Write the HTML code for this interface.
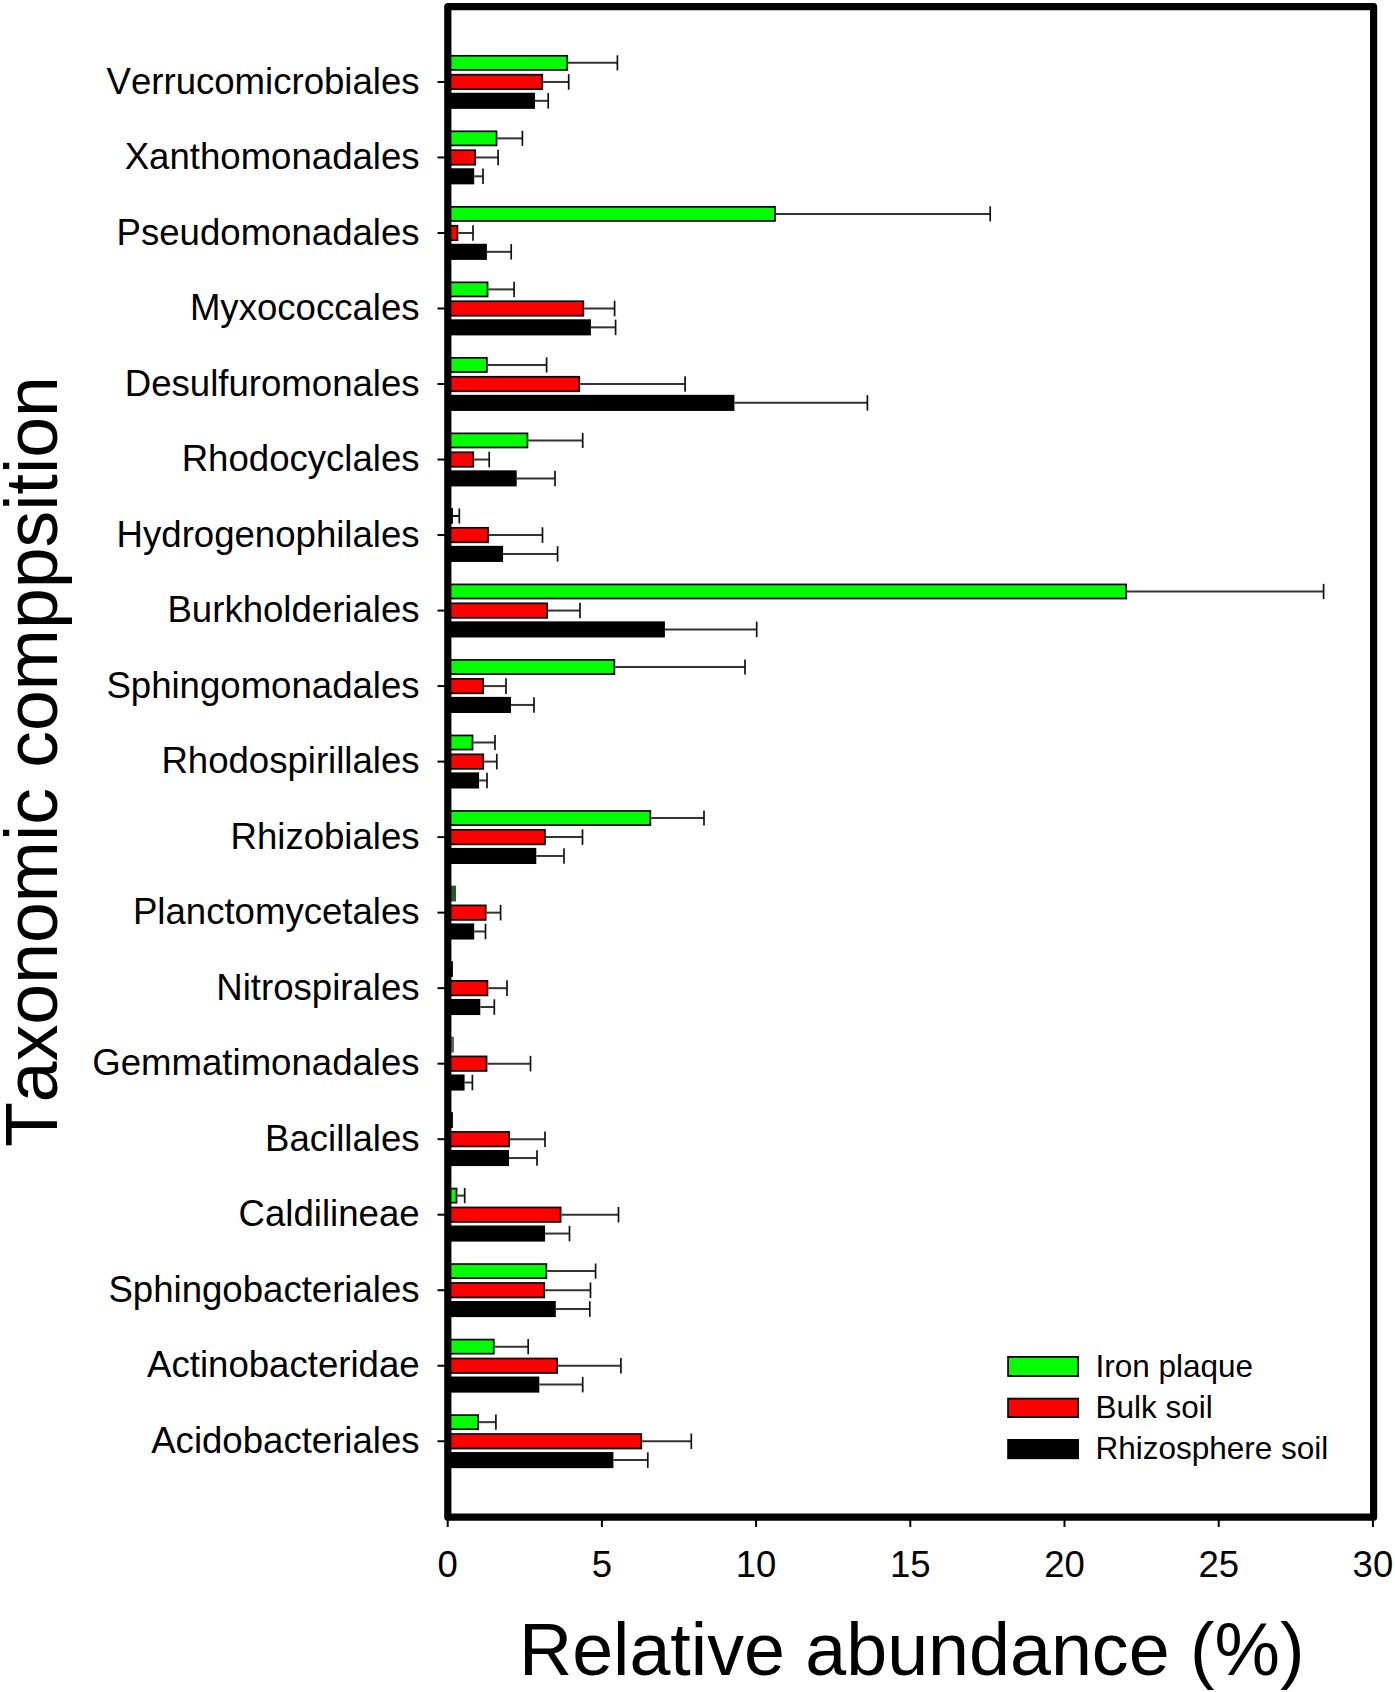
<!DOCTYPE html>
<html><head><meta charset="utf-8"><style>
html,body{margin:0;padding:0;background:#fff;}
svg{display:block;}
text{font-family:"Liberation Sans",sans-serif;fill:#000;font-kerning:none;}
.lab{font-size:36.6px;}
.tick{font-size:36.5px;}
.leg{font-size:31.5px;}
.title{font-size:73.6px;}
.title2{font-size:73.4px;}
</style></head><body>
<svg width="1395" height="1692" viewBox="0 0 1395 1692">
<rect width="1395" height="1692" fill="#fff"/>
<rect x="448.00" y="55.80" width="119.25" height="14.10" fill="#00ff00" stroke="#000" stroke-width="1.7"/>
<line x1="568.10" y1="62.85" x2="617.40" y2="62.85" stroke="#333" stroke-width="2"/>
<line x1="617.40" y1="55.25" x2="617.40" y2="70.45" stroke="#111" stroke-width="1.7"/>
<rect x="448.00" y="74.70" width="94.25" height="14.50" fill="#ff0000" stroke="#000" stroke-width="1.7"/>
<line x1="543.10" y1="81.95" x2="568.70" y2="81.95" stroke="#333" stroke-width="2"/>
<line x1="568.70" y1="74.15" x2="568.70" y2="89.75" stroke="#111" stroke-width="1.7"/>
<rect x="448.00" y="93.60" width="86.15" height="14.40" fill="#000000" stroke="#000" stroke-width="1.7"/>
<line x1="535.00" y1="100.80" x2="548.20" y2="100.80" stroke="#333" stroke-width="2"/>
<line x1="548.20" y1="93.05" x2="548.20" y2="108.55" stroke="#111" stroke-width="1.7"/>
<line x1="437.5" y1="81.95" x2="446" y2="81.95" stroke="#000" stroke-width="2"/>
<text x="419.6" y="93.55" text-anchor="end" class="lab">Verrucomicrobiales</text>
<rect x="448.00" y="131.32" width="48.55" height="14.10" fill="#00ff00" stroke="#000" stroke-width="1.7"/>
<line x1="497.40" y1="138.37" x2="522.40" y2="138.37" stroke="#333" stroke-width="2"/>
<line x1="522.40" y1="130.77" x2="522.40" y2="145.97" stroke="#111" stroke-width="1.7"/>
<rect x="448.00" y="150.22" width="27.15" height="14.50" fill="#ff0000" stroke="#000" stroke-width="1.7"/>
<line x1="476.00" y1="157.47" x2="498.10" y2="157.47" stroke="#333" stroke-width="2"/>
<line x1="498.10" y1="149.67" x2="498.10" y2="165.27" stroke="#111" stroke-width="1.7"/>
<rect x="448.00" y="169.12" width="25.35" height="14.40" fill="#000000" stroke="#000" stroke-width="1.7"/>
<line x1="474.20" y1="176.32" x2="483.00" y2="176.32" stroke="#333" stroke-width="2"/>
<line x1="483.00" y1="168.57" x2="483.00" y2="184.07" stroke="#111" stroke-width="1.7"/>
<line x1="437.5" y1="157.47" x2="446" y2="157.47" stroke="#000" stroke-width="2"/>
<text x="419.6" y="169.07" text-anchor="end" class="lab">Xanthomonadales</text>
<rect x="448.00" y="206.83" width="326.95" height="14.10" fill="#00ff00" stroke="#000" stroke-width="1.7"/>
<line x1="775.80" y1="213.88" x2="990.20" y2="213.88" stroke="#333" stroke-width="2"/>
<line x1="990.20" y1="206.28" x2="990.20" y2="221.48" stroke="#111" stroke-width="1.7"/>
<rect x="448.00" y="225.73" width="9.45" height="14.50" fill="#ff0000" stroke="#000" stroke-width="1.7"/>
<line x1="458.30" y1="232.98" x2="473.00" y2="232.98" stroke="#333" stroke-width="2"/>
<line x1="473.00" y1="225.18" x2="473.00" y2="240.78" stroke="#111" stroke-width="1.7"/>
<rect x="448.00" y="244.63" width="38.05" height="14.40" fill="#000000" stroke="#000" stroke-width="1.7"/>
<line x1="486.90" y1="251.83" x2="511.20" y2="251.83" stroke="#333" stroke-width="2"/>
<line x1="511.20" y1="244.08" x2="511.20" y2="259.58" stroke="#111" stroke-width="1.7"/>
<line x1="437.5" y1="232.98" x2="446" y2="232.98" stroke="#000" stroke-width="2"/>
<text x="419.6" y="244.58" text-anchor="end" class="lab">Pseudomonadales</text>
<rect x="448.00" y="282.35" width="39.55" height="14.10" fill="#00ff00" stroke="#000" stroke-width="1.7"/>
<line x1="488.40" y1="289.40" x2="514.10" y2="289.40" stroke="#333" stroke-width="2"/>
<line x1="514.10" y1="281.80" x2="514.10" y2="297.00" stroke="#111" stroke-width="1.7"/>
<rect x="448.00" y="301.25" width="135.35" height="14.50" fill="#ff0000" stroke="#000" stroke-width="1.7"/>
<line x1="584.20" y1="308.50" x2="614.60" y2="308.50" stroke="#333" stroke-width="2"/>
<line x1="614.60" y1="300.70" x2="614.60" y2="316.30" stroke="#111" stroke-width="1.7"/>
<rect x="448.00" y="320.15" width="142.05" height="14.40" fill="#000000" stroke="#000" stroke-width="1.7"/>
<line x1="590.90" y1="327.35" x2="615.60" y2="327.35" stroke="#333" stroke-width="2"/>
<line x1="615.60" y1="319.60" x2="615.60" y2="335.10" stroke="#111" stroke-width="1.7"/>
<line x1="437.5" y1="308.50" x2="446" y2="308.50" stroke="#000" stroke-width="2"/>
<text x="419.6" y="320.10" text-anchor="end" class="lab">Myxococcales</text>
<rect x="448.00" y="357.87" width="38.85" height="14.10" fill="#00ff00" stroke="#000" stroke-width="1.7"/>
<line x1="487.70" y1="364.92" x2="546.60" y2="364.92" stroke="#333" stroke-width="2"/>
<line x1="546.60" y1="357.32" x2="546.60" y2="372.52" stroke="#111" stroke-width="1.7"/>
<rect x="448.00" y="376.77" width="131.25" height="14.50" fill="#ff0000" stroke="#000" stroke-width="1.7"/>
<line x1="580.10" y1="384.02" x2="685.10" y2="384.02" stroke="#333" stroke-width="2"/>
<line x1="685.10" y1="376.22" x2="685.10" y2="391.82" stroke="#111" stroke-width="1.7"/>
<rect x="448.00" y="395.67" width="285.55" height="14.40" fill="#000000" stroke="#000" stroke-width="1.7"/>
<line x1="734.40" y1="402.87" x2="867.40" y2="402.87" stroke="#333" stroke-width="2"/>
<line x1="867.40" y1="395.12" x2="867.40" y2="410.62" stroke="#111" stroke-width="1.7"/>
<line x1="437.5" y1="384.02" x2="446" y2="384.02" stroke="#000" stroke-width="2"/>
<text x="419.6" y="395.62" text-anchor="end" class="lab">Desulfuromonales</text>
<rect x="448.00" y="433.38" width="79.45" height="14.10" fill="#00ff00" stroke="#000" stroke-width="1.7"/>
<line x1="528.30" y1="440.43" x2="582.70" y2="440.43" stroke="#333" stroke-width="2"/>
<line x1="582.70" y1="432.83" x2="582.70" y2="448.03" stroke="#111" stroke-width="1.7"/>
<rect x="448.00" y="452.28" width="25.25" height="14.50" fill="#ff0000" stroke="#000" stroke-width="1.7"/>
<line x1="474.10" y1="459.53" x2="489.20" y2="459.53" stroke="#333" stroke-width="2"/>
<line x1="489.20" y1="451.73" x2="489.20" y2="467.33" stroke="#111" stroke-width="1.7"/>
<rect x="448.00" y="471.19" width="67.85" height="14.40" fill="#000000" stroke="#000" stroke-width="1.7"/>
<line x1="516.70" y1="478.38" x2="555.00" y2="478.38" stroke="#333" stroke-width="2"/>
<line x1="555.00" y1="470.63" x2="555.00" y2="486.13" stroke="#111" stroke-width="1.7"/>
<line x1="437.5" y1="459.53" x2="446" y2="459.53" stroke="#000" stroke-width="2"/>
<text x="419.6" y="471.13" text-anchor="end" class="lab">Rhodocyclales</text>
<rect x="448" y="508.05" width="4.90" height="15.80" fill="#000"/>
<line x1="452.90" y1="515.95" x2="459.30" y2="515.95" stroke="#111" stroke-width="2"/>
<line x1="459.30" y1="508.35" x2="459.30" y2="523.55" stroke="#111" stroke-width="1.7"/>
<rect x="448.00" y="527.80" width="40.05" height="14.50" fill="#ff0000" stroke="#000" stroke-width="1.7"/>
<line x1="488.90" y1="535.05" x2="542.50" y2="535.05" stroke="#333" stroke-width="2"/>
<line x1="542.50" y1="527.25" x2="542.50" y2="542.85" stroke="#111" stroke-width="1.7"/>
<rect x="448.00" y="546.70" width="54.25" height="14.40" fill="#000000" stroke="#000" stroke-width="1.7"/>
<line x1="503.10" y1="553.90" x2="557.60" y2="553.90" stroke="#333" stroke-width="2"/>
<line x1="557.60" y1="546.15" x2="557.60" y2="561.65" stroke="#111" stroke-width="1.7"/>
<line x1="437.5" y1="535.05" x2="446" y2="535.05" stroke="#000" stroke-width="2"/>
<text x="419.6" y="546.65" text-anchor="end" class="lab">Hydrogenophilales</text>
<rect x="448.00" y="584.42" width="678.15" height="14.10" fill="#00ff00" stroke="#000" stroke-width="1.7"/>
<line x1="1127.00" y1="591.47" x2="1323.60" y2="591.47" stroke="#333" stroke-width="2"/>
<line x1="1323.60" y1="583.87" x2="1323.60" y2="599.07" stroke="#111" stroke-width="1.7"/>
<rect x="448.00" y="603.32" width="99.15" height="14.50" fill="#ff0000" stroke="#000" stroke-width="1.7"/>
<line x1="548.00" y1="610.57" x2="580.00" y2="610.57" stroke="#333" stroke-width="2"/>
<line x1="580.00" y1="602.77" x2="580.00" y2="618.37" stroke="#111" stroke-width="1.7"/>
<rect x="448.00" y="622.22" width="216.05" height="14.40" fill="#000000" stroke="#000" stroke-width="1.7"/>
<line x1="664.90" y1="629.42" x2="756.70" y2="629.42" stroke="#333" stroke-width="2"/>
<line x1="756.70" y1="621.67" x2="756.70" y2="637.17" stroke="#111" stroke-width="1.7"/>
<line x1="437.5" y1="610.57" x2="446" y2="610.57" stroke="#000" stroke-width="2"/>
<text x="419.6" y="622.17" text-anchor="end" class="lab">Burkholderiales</text>
<rect x="448.00" y="659.94" width="166.35" height="14.10" fill="#00ff00" stroke="#000" stroke-width="1.7"/>
<line x1="615.20" y1="666.99" x2="745.00" y2="666.99" stroke="#333" stroke-width="2"/>
<line x1="745.00" y1="659.39" x2="745.00" y2="674.59" stroke="#111" stroke-width="1.7"/>
<rect x="448.00" y="678.84" width="35.15" height="14.50" fill="#ff0000" stroke="#000" stroke-width="1.7"/>
<line x1="484.00" y1="686.09" x2="506.00" y2="686.09" stroke="#333" stroke-width="2"/>
<line x1="506.00" y1="678.29" x2="506.00" y2="693.89" stroke="#111" stroke-width="1.7"/>
<rect x="448.00" y="697.74" width="62.15" height="14.40" fill="#000000" stroke="#000" stroke-width="1.7"/>
<line x1="511.00" y1="704.94" x2="534.00" y2="704.94" stroke="#333" stroke-width="2"/>
<line x1="534.00" y1="697.19" x2="534.00" y2="712.69" stroke="#111" stroke-width="1.7"/>
<line x1="437.5" y1="686.09" x2="446" y2="686.09" stroke="#000" stroke-width="2"/>
<text x="419.6" y="697.69" text-anchor="end" class="lab">Sphingomonadales</text>
<rect x="448.00" y="735.45" width="24.55" height="14.10" fill="#00ff00" stroke="#000" stroke-width="1.7"/>
<line x1="473.40" y1="742.50" x2="495.00" y2="742.50" stroke="#333" stroke-width="2"/>
<line x1="495.00" y1="734.90" x2="495.00" y2="750.10" stroke="#111" stroke-width="1.7"/>
<rect x="448.00" y="754.35" width="35.25" height="14.50" fill="#ff0000" stroke="#000" stroke-width="1.7"/>
<line x1="484.10" y1="761.60" x2="496.80" y2="761.60" stroke="#333" stroke-width="2"/>
<line x1="496.80" y1="753.80" x2="496.80" y2="769.40" stroke="#111" stroke-width="1.7"/>
<rect x="448.00" y="773.25" width="30.25" height="14.40" fill="#000000" stroke="#000" stroke-width="1.7"/>
<line x1="479.10" y1="780.45" x2="487.00" y2="780.45" stroke="#333" stroke-width="2"/>
<line x1="487.00" y1="772.70" x2="487.00" y2="788.20" stroke="#111" stroke-width="1.7"/>
<line x1="437.5" y1="761.60" x2="446" y2="761.60" stroke="#000" stroke-width="2"/>
<text x="419.6" y="773.20" text-anchor="end" class="lab">Rhodospirillales</text>
<rect x="448.00" y="810.97" width="202.35" height="14.10" fill="#00ff00" stroke="#000" stroke-width="1.7"/>
<line x1="651.20" y1="818.02" x2="704.00" y2="818.02" stroke="#333" stroke-width="2"/>
<line x1="704.00" y1="810.42" x2="704.00" y2="825.62" stroke="#111" stroke-width="1.7"/>
<rect x="448.00" y="829.87" width="96.95" height="14.50" fill="#ff0000" stroke="#000" stroke-width="1.7"/>
<line x1="545.80" y1="837.12" x2="582.50" y2="837.12" stroke="#333" stroke-width="2"/>
<line x1="582.50" y1="829.32" x2="582.50" y2="844.92" stroke="#111" stroke-width="1.7"/>
<rect x="448.00" y="848.77" width="87.45" height="14.40" fill="#000000" stroke="#000" stroke-width="1.7"/>
<line x1="536.30" y1="855.97" x2="564.00" y2="855.97" stroke="#333" stroke-width="2"/>
<line x1="564.00" y1="848.22" x2="564.00" y2="863.72" stroke="#111" stroke-width="1.7"/>
<line x1="437.5" y1="837.12" x2="446" y2="837.12" stroke="#000" stroke-width="2"/>
<text x="419.6" y="848.72" text-anchor="end" class="lab">Rhizobiales</text>
<rect x="448" y="885.64" width="8.00" height="15.80" fill="#2c5a2c"/>
<rect x="448.00" y="905.39" width="37.75" height="14.50" fill="#ff0000" stroke="#000" stroke-width="1.7"/>
<line x1="486.60" y1="912.64" x2="500.60" y2="912.64" stroke="#333" stroke-width="2"/>
<line x1="500.60" y1="904.84" x2="500.60" y2="920.44" stroke="#111" stroke-width="1.7"/>
<rect x="448.00" y="924.29" width="25.35" height="14.40" fill="#000000" stroke="#000" stroke-width="1.7"/>
<line x1="474.20" y1="931.49" x2="485.50" y2="931.49" stroke="#333" stroke-width="2"/>
<line x1="485.50" y1="923.74" x2="485.50" y2="939.24" stroke="#111" stroke-width="1.7"/>
<line x1="437.5" y1="912.64" x2="446" y2="912.64" stroke="#000" stroke-width="2"/>
<text x="419.6" y="924.24" text-anchor="end" class="lab">Planctomycetales</text>
<rect x="448" y="961.15" width="4.90" height="15.80" fill="#000"/>
<rect x="448.00" y="980.90" width="39.45" height="14.50" fill="#ff0000" stroke="#000" stroke-width="1.7"/>
<line x1="488.30" y1="988.15" x2="507.00" y2="988.15" stroke="#333" stroke-width="2"/>
<line x1="507.00" y1="980.35" x2="507.00" y2="995.95" stroke="#111" stroke-width="1.7"/>
<rect x="448.00" y="999.80" width="31.45" height="14.40" fill="#000000" stroke="#000" stroke-width="1.7"/>
<line x1="480.30" y1="1007.00" x2="494.30" y2="1007.00" stroke="#333" stroke-width="2"/>
<line x1="494.30" y1="999.25" x2="494.30" y2="1014.75" stroke="#111" stroke-width="1.7"/>
<line x1="437.5" y1="988.15" x2="446" y2="988.15" stroke="#000" stroke-width="2"/>
<text x="419.6" y="999.75" text-anchor="end" class="lab">Nitrospirales</text>
<rect x="448" y="1036.67" width="6.00" height="15.80" fill="#666"/>
<rect x="448.00" y="1056.42" width="38.55" height="14.50" fill="#ff0000" stroke="#000" stroke-width="1.7"/>
<line x1="487.40" y1="1063.67" x2="530.50" y2="1063.67" stroke="#333" stroke-width="2"/>
<line x1="530.50" y1="1055.87" x2="530.50" y2="1071.47" stroke="#111" stroke-width="1.7"/>
<rect x="448.00" y="1075.32" width="15.75" height="14.40" fill="#000000" stroke="#000" stroke-width="1.7"/>
<line x1="464.60" y1="1082.52" x2="472.40" y2="1082.52" stroke="#333" stroke-width="2"/>
<line x1="472.40" y1="1074.77" x2="472.40" y2="1090.27" stroke="#111" stroke-width="1.7"/>
<line x1="437.5" y1="1063.67" x2="446" y2="1063.67" stroke="#000" stroke-width="2"/>
<text x="419.6" y="1075.27" text-anchor="end" class="lab">Gemmatimonadales</text>
<rect x="448" y="1112.19" width="4.90" height="15.80" fill="#000"/>
<rect x="448.00" y="1131.94" width="61.05" height="14.50" fill="#ff0000" stroke="#000" stroke-width="1.7"/>
<line x1="509.90" y1="1139.19" x2="545.00" y2="1139.19" stroke="#333" stroke-width="2"/>
<line x1="545.00" y1="1131.39" x2="545.00" y2="1146.99" stroke="#111" stroke-width="1.7"/>
<rect x="448.00" y="1150.84" width="60.15" height="14.40" fill="#000000" stroke="#000" stroke-width="1.7"/>
<line x1="509.00" y1="1158.04" x2="537.00" y2="1158.04" stroke="#333" stroke-width="2"/>
<line x1="537.00" y1="1150.29" x2="537.00" y2="1165.79" stroke="#111" stroke-width="1.7"/>
<line x1="437.5" y1="1139.19" x2="446" y2="1139.19" stroke="#000" stroke-width="2"/>
<text x="419.6" y="1150.79" text-anchor="end" class="lab">Bacillales</text>
<rect x="448.00" y="1188.55" width="8.55" height="14.10" fill="#00ff00" stroke="#000" stroke-width="1.7"/>
<line x1="457.40" y1="1195.61" x2="464.70" y2="1195.61" stroke="#333" stroke-width="2"/>
<line x1="464.70" y1="1188.00" x2="464.70" y2="1203.20" stroke="#111" stroke-width="1.7"/>
<rect x="448.00" y="1207.45" width="112.65" height="14.50" fill="#ff0000" stroke="#000" stroke-width="1.7"/>
<line x1="561.50" y1="1214.70" x2="618.50" y2="1214.70" stroke="#333" stroke-width="2"/>
<line x1="618.50" y1="1206.90" x2="618.50" y2="1222.50" stroke="#111" stroke-width="1.7"/>
<rect x="448.00" y="1226.35" width="96.25" height="14.40" fill="#000000" stroke="#000" stroke-width="1.7"/>
<line x1="545.10" y1="1233.55" x2="569.50" y2="1233.55" stroke="#333" stroke-width="2"/>
<line x1="569.50" y1="1225.80" x2="569.50" y2="1241.31" stroke="#111" stroke-width="1.7"/>
<line x1="437.5" y1="1214.70" x2="446" y2="1214.70" stroke="#000" stroke-width="2"/>
<text x="419.6" y="1226.30" text-anchor="end" class="lab">Caldilineae</text>
<rect x="448.00" y="1264.07" width="98.35" height="14.10" fill="#00ff00" stroke="#000" stroke-width="1.7"/>
<line x1="547.20" y1="1271.12" x2="595.60" y2="1271.12" stroke="#333" stroke-width="2"/>
<line x1="595.60" y1="1263.52" x2="595.60" y2="1278.72" stroke="#111" stroke-width="1.7"/>
<rect x="448.00" y="1282.97" width="96.25" height="14.50" fill="#ff0000" stroke="#000" stroke-width="1.7"/>
<line x1="545.10" y1="1290.22" x2="590.50" y2="1290.22" stroke="#333" stroke-width="2"/>
<line x1="590.50" y1="1282.42" x2="590.50" y2="1298.02" stroke="#111" stroke-width="1.7"/>
<rect x="448.00" y="1301.87" width="106.95" height="14.40" fill="#000000" stroke="#000" stroke-width="1.7"/>
<line x1="555.80" y1="1309.07" x2="589.80" y2="1309.07" stroke="#333" stroke-width="2"/>
<line x1="589.80" y1="1301.32" x2="589.80" y2="1316.82" stroke="#111" stroke-width="1.7"/>
<line x1="437.5" y1="1290.22" x2="446" y2="1290.22" stroke="#000" stroke-width="2"/>
<text x="419.6" y="1301.82" text-anchor="end" class="lab">Sphingobacteriales</text>
<rect x="448.00" y="1339.59" width="45.75" height="14.10" fill="#00ff00" stroke="#000" stroke-width="1.7"/>
<line x1="494.60" y1="1346.64" x2="528.20" y2="1346.64" stroke="#333" stroke-width="2"/>
<line x1="528.20" y1="1339.04" x2="528.20" y2="1354.24" stroke="#111" stroke-width="1.7"/>
<rect x="448.00" y="1358.49" width="109.15" height="14.50" fill="#ff0000" stroke="#000" stroke-width="1.7"/>
<line x1="558.00" y1="1365.74" x2="620.90" y2="1365.74" stroke="#333" stroke-width="2"/>
<line x1="620.90" y1="1357.94" x2="620.90" y2="1373.54" stroke="#111" stroke-width="1.7"/>
<rect x="448.00" y="1377.39" width="90.45" height="14.40" fill="#000000" stroke="#000" stroke-width="1.7"/>
<line x1="539.30" y1="1384.59" x2="582.70" y2="1384.59" stroke="#333" stroke-width="2"/>
<line x1="582.70" y1="1376.84" x2="582.70" y2="1392.34" stroke="#111" stroke-width="1.7"/>
<line x1="437.5" y1="1365.74" x2="446" y2="1365.74" stroke="#000" stroke-width="2"/>
<text x="419.6" y="1377.34" text-anchor="end" class="lab">Actinobacteridae</text>
<rect x="448.00" y="1415.11" width="30.15" height="14.10" fill="#00ff00" stroke="#000" stroke-width="1.7"/>
<line x1="479.00" y1="1422.16" x2="495.90" y2="1422.16" stroke="#333" stroke-width="2"/>
<line x1="495.90" y1="1414.56" x2="495.90" y2="1429.76" stroke="#111" stroke-width="1.7"/>
<rect x="448.00" y="1434.01" width="193.25" height="14.50" fill="#ff0000" stroke="#000" stroke-width="1.7"/>
<line x1="642.10" y1="1441.26" x2="691.30" y2="1441.26" stroke="#333" stroke-width="2"/>
<line x1="691.30" y1="1433.46" x2="691.30" y2="1449.06" stroke="#111" stroke-width="1.7"/>
<rect x="448.00" y="1452.91" width="164.55" height="14.40" fill="#000000" stroke="#000" stroke-width="1.7"/>
<line x1="613.40" y1="1460.11" x2="647.80" y2="1460.11" stroke="#333" stroke-width="2"/>
<line x1="647.80" y1="1452.36" x2="647.80" y2="1467.86" stroke="#111" stroke-width="1.7"/>
<line x1="437.5" y1="1441.26" x2="446" y2="1441.26" stroke="#000" stroke-width="2"/>
<text x="419.6" y="1452.86" text-anchor="end" class="lab">Acidobacteriales</text>
<rect x="447.8" y="6.7" width="925.8" height="1510.5" fill="none" stroke="#000" stroke-width="7.2" stroke-linejoin="round"/>
<line x1="447.70" y1="1519" x2="447.70" y2="1527" stroke="#000" stroke-width="2"/>
<text x="447.70" y="1576.5" text-anchor="middle" class="tick">0</text>
<line x1="601.90" y1="1519" x2="601.90" y2="1527" stroke="#000" stroke-width="2"/>
<text x="601.90" y="1576.5" text-anchor="middle" class="tick">5</text>
<line x1="756.10" y1="1519" x2="756.10" y2="1527" stroke="#000" stroke-width="2"/>
<text x="756.10" y="1576.5" text-anchor="middle" class="tick">10</text>
<line x1="910.30" y1="1519" x2="910.30" y2="1527" stroke="#000" stroke-width="2"/>
<text x="910.30" y="1576.5" text-anchor="middle" class="tick">15</text>
<line x1="1064.50" y1="1519" x2="1064.50" y2="1527" stroke="#000" stroke-width="2"/>
<text x="1064.50" y="1576.5" text-anchor="middle" class="tick">20</text>
<line x1="1218.70" y1="1519" x2="1218.70" y2="1527" stroke="#000" stroke-width="2"/>
<text x="1218.70" y="1576.5" text-anchor="middle" class="tick">25</text>
<line x1="1372.90" y1="1519" x2="1372.90" y2="1527" stroke="#000" stroke-width="2"/>
<text x="1372.90" y="1576.5" text-anchor="middle" class="tick">30</text>
<rect x="1008.10" y="1356.90" width="70.00" height="19.10" fill="#00ff00" stroke="#000" stroke-width="1.8"/>
<text x="1095.5" y="1376.90" class="leg">Iron plaque</text>
<rect x="1008.10" y="1398.60" width="70.00" height="18.50" fill="#ff0000" stroke="#000" stroke-width="1.8"/>
<text x="1095.5" y="1418.00" class="leg">Bulk soil</text>
<rect x="1008.10" y="1439.90" width="70.00" height="18.40" fill="#000000" stroke="#000" stroke-width="1.8"/>
<text x="1095.5" y="1459.20" class="leg">Rhizosphere soil</text>
<text x="519" y="1674.5" class="title">Relative abundance (%)</text>
<text transform="translate(56.7,1147) rotate(-90)" class="title2">Taxonomic comppsition</text>
</svg>
</body></html>
